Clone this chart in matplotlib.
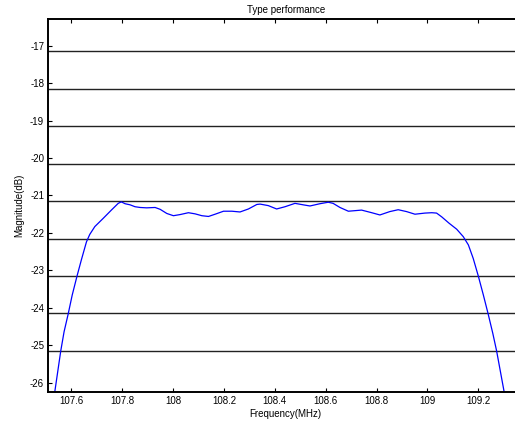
import matplotlib
matplotlib.use("Agg")
import matplotlib.pyplot as plt
from matplotlib.ticker import FixedLocator, FixedFormatter

plt.rcParams['font.family'] = ['Liberation Sans', 'DejaVu Sans']

freq = [107.535, 107.558, 107.571, 107.587, 107.603, 107.622, 107.639, 107.659,
        107.672, 107.692, 107.725, 107.757, 107.784, 107.796, 107.811, 107.831,
        107.850, 107.870, 107.896, 107.929, 107.949, 107.975, 108.001, 108.027,
        108.060, 108.086, 108.113, 108.139, 108.165, 108.198, 108.231, 108.263,
        108.296, 108.329, 108.342, 108.374, 108.407, 108.440, 108.479, 108.512,
        108.538, 108.577, 108.610, 108.629, 108.656, 108.689, 108.741, 108.781,
        108.813, 108.852, 108.885, 108.918, 108.951, 108.990, 109.017, 109.036,
        109.056, 109.085, 109.115, 109.141, 109.161, 109.180, 109.200, 109.220,
        109.239, 109.257, 109.272, 109.301]
mag = [-26.22, -25.15, -24.64, -24.17, -23.66, -23.15, -22.72, -22.24,
       -22.04, -21.83, -21.61, -21.39, -21.21, -21.17, -21.22, -21.25,
       -21.30, -21.32, -21.33, -21.32, -21.37, -21.48, -21.54, -21.51,
       -21.46, -21.49, -21.54, -21.56, -21.50, -21.42, -21.42, -21.44,
       -21.36, -21.24, -21.23, -21.27, -21.36, -21.30, -21.21, -21.25,
       -21.28, -21.22, -21.18, -21.21, -21.32, -21.42, -21.39, -21.46,
       -21.52, -21.43, -21.38, -21.43, -21.50, -21.47, -21.46, -21.47,
       -21.57, -21.74, -21.90, -22.10, -22.32, -22.68, -23.15, -23.66,
       -24.17, -24.68, -25.15, -26.22]

ref_lines = [-17.15, -18.15, -19.15, -20.15, -21.15, -22.15, -23.15, -24.15, -25.15]
xticks = [107.6, 107.8, 108.0, 108.2, 108.4, 108.6, 108.8, 109.0, 109.2]
xticklabels = ['107.6', '107.8', '108', '108.2', '108.4', '108.6', '108.8', '109', '109.2']
yticks = [-26, -25, -24, -23, -22, -21, -20, -19, -18, -17]
yticklabels = ['-26', '-25', '-24', '-23', '-22', '-21', '-20', '-19', '-18', '-17']

W, H = 515, 423
fig = plt.figure(figsize=(W / 100, H / 100), dpi=100)
left, right, top, bottom = 48.3, 523.3, 19.5, 391.7
ax = fig.add_axes([left / W, 1 - bottom / H, (right - left) / W, (bottom - top) / H])

for yv in ref_lines:
    ax.axhline(yv, color='#222222', lw=1.0, zorder=1)
ax.plot(freq, mag, color='#0000ff', lw=0.9, zorder=2, solid_joinstyle='round')

ax.set_xlim(107.509, 109.377)
ax.set_ylim(-26.24, -16.30)
ax.xaxis.set_major_locator(FixedLocator(xticks))
ax.xaxis.set_major_formatter(FixedFormatter(xticklabels))
ax.yaxis.set_major_locator(FixedLocator(yticks))
ax.yaxis.set_major_formatter(FixedFormatter(yticklabels))
ax.tick_params(direction='in', length=3, width=0.8, labelsize=7, top=True, right=True,
               pad=3, colors='black')
for s in ax.spines.values():
    s.set_linewidth(1.4)
    s.set_color('black')

ax.set_title('Type performance', fontsize=7, pad=5)
ax.set_xlabel('Frequency(MHz)', fontsize=7, labelpad=2)
ax.set_ylabel('Magnitude(dB)', fontsize=7, labelpad=4)

fig.savefig('out.png', dpi=100)
